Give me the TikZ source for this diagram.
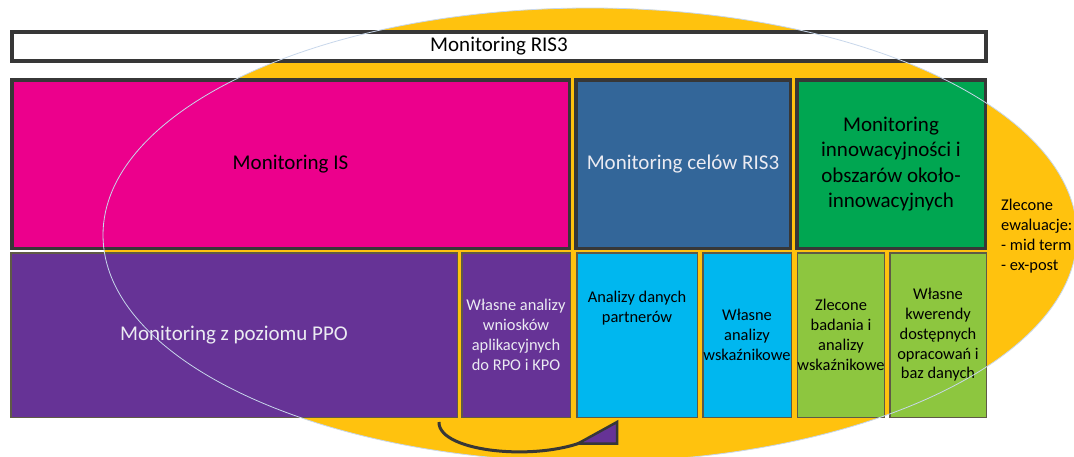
\documentclass[tikz,border=0pt]{standalone}
\usepackage{fontspec}
\setmainfont{Carlito}
\usepackage{tikz}
\usetikzlibrary{calc}
\tikzset{>=latex}

\definecolor{evalyellow}{RGB}{255,194,14}
\definecolor{ismagenta}{RGB}{236,0,140}
\definecolor{goalblue}{RGB}{51,102,153}
\definecolor{innogreen}{RGB}{0,166,81}
\definecolor{ppopurple}{RGB}{102,51,150}
\definecolor{partnerblue}{RGB}{0,183,239}
\definecolor{querygreen}{RGB}{141,198,63}
\definecolor{framegray}{RGB}{55,55,55}
\definecolor{edgegray}{RGB}{95,90,70}
\definecolor{rimgray}{RGB}{200,215,235}
\definecolor{paletext}{RGB}{235,235,242}

\begin{document}
\begin{tikzpicture}[x=1pt,y=-1pt,
    bigbox/.style={draw=framegray,line width=3.5pt,inner sep=0pt,align=center,
      font=\fontsize{21}{25.6}\selectfont,minimum height=168.5pt},
    smallbox/.style={draw=edgegray,line width=1.5pt,inner sep=0pt,align=center,
      font=\fontsize{16.4}{19.8}\selectfont,minimum height=164.5pt},
    smalltext/.style={inner sep=0pt,align=center,font=\fontsize{16.4}{19.8}\selectfont}]

  % CANVAS
  \useasboundingbox (0,0) rectangle (1074,456);

  % SETTINGS
  \def\ex{590}   % ellipse centre x
  \def\ey{235}   % ellipse centre y
  \def\erx{487}  % ellipse x radius
  \def\ery{227}  % ellipse y radius

  % ELLIPSE (fill)
  \fill[evalyellow] (\ex,\ey) ellipse [x radius=\erx pt, y radius=\ery pt];

  % TOP BAR
  \node[draw=framegray,line width=4pt,fill=white,inner sep=0pt,
        minimum width=974pt,minimum height=29pt,
        font=\fontsize{21}{25.6}\selectfont] (ris) at (499,46.5) {Monitoring RIS3};

  % ROW 1
  \node[bigbox,fill=ismagenta,minimum width=557.5pt] (is) at (290.5,164) {Monitoring IS};
  \node[bigbox,fill=goalblue,minimum width=214.5pt,text=paletext] (goal) at (683,164)
    {Monitoring celów RIS3};
  \node[bigbox,fill=innogreen,minimum width=188.5pt] (inno) at (891,164)
    {Monitoring\\innowacyjności i\\obszarów około-\\innowacyjnych};

  % ROW 2
  \node[smallbox,fill=ppopurple,minimum width=446.5pt,text=paletext,
        font=\fontsize{21}{25.6}\selectfont] (ppo) at (234,335) {Monitoring z poziomu PPO};
  \node[smallbox,fill=ppopurple,minimum width=108.5pt,text=paletext] (own) at (516,335)
    {Własne analizy\\wniosków\\aplikacyjnych\\do RPO i KPO};
  \node[smallbox,fill=partnerblue,minimum width=120.5pt] (adp) at (637,335) {};
  \node[smalltext] (adptext) at ($(adp.center)+(0,-27)$) {Analizy danych\\partnerów};
  \node[smallbox,fill=partnerblue,minimum width=88.5pt] (ind) at (747,335)
    {Własne\\analizy\\wskaźnikowe};
  \node[smallbox,fill=querygreen,minimum width=86.5pt] (ord) at (841,335)
    {Zlecone\\badania i\\analizy\\wskaźnikowe};
  \node[smallbox,fill=querygreen,minimum width=96.5pt] (qry) at (938,335)
    {Własne\\kwerendy\\dostępnych\\opracowań i\\baz danych};

  % EVALUATION
  \node[smalltext,align=left,anchor=west] (eval) at (1001,236)
    {Zlecone\\ewaluacje:\\- mid term\\- ex-post};

  % ELLIPSE (rim)
  \draw[rimgray,line width=0.8pt] (\ex,\ey) ellipse [x radius=\erx pt, y radius=\ery pt];

  % ARROW
  \draw[framegray,line width=3pt]
    ($(ppo.south east)+(-19,4)$) .. controls ($(ppo.south east)+(-20,35)$)
    and ($(adp.south west)+(-31,45)$) .. ($(adp.south west)+(18,19)$);
  \filldraw[fill=ppopurple,draw=framegray,line width=2.5pt,line join=miter]
    ($(adp.south west)+(41,4)$) -- ($(adp.south west)+(2,25.5)$)
    -- ($(adp.south west)+(41,25.5)$) -- cycle;

\end{tikzpicture}
\end{document}
